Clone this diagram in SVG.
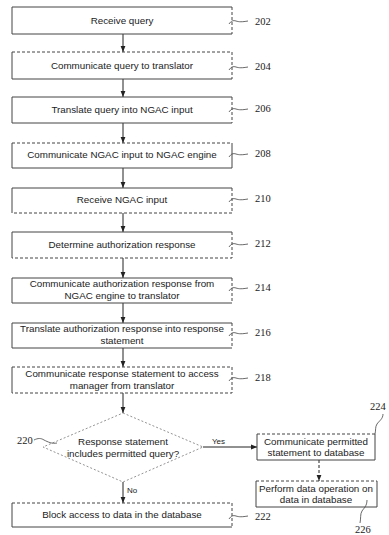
<svg xmlns="http://www.w3.org/2000/svg" width="389" height="535" viewBox="0 0 389 535">
  <defs>
    <marker id="arrow" viewBox="0 0 10 10" refX="10" refY="5" markerWidth="6" markerHeight="6" orient="auto">
      <path d="M0,1 L10,5 L0,9 z" fill="#222"/>
    </marker>
    <style>
      .solid { stroke: #444; stroke-width: 1; fill: none; }
      .dash { stroke: #444; stroke-width: 1; fill: none; stroke-dasharray: 3 2; }
      .dot { stroke: #777; stroke-width: 0.8; fill: none; stroke-dasharray: 2 2; }
      .conn { stroke: #222; stroke-width: 1; fill: none; marker-end: url(#arrow); }
      .lead { stroke: #444; stroke-width: 0.8; fill: none; }
      .t { font-family: "Liberation Sans", Arial, sans-serif; font-size: 9.8px; fill: #222; text-anchor: middle; }
      .s { font-family: "Liberation Sans", Arial, sans-serif; font-size: 8px; fill: #222; }
      .ref { font-family: "Liberation Serif", "Times New Roman", serif; font-size: 10.5px; fill: #222; }
    </style>
  </defs>
  <rect width="389" height="535" fill="#fff"/>

  <!-- connectors -->
  <g id="connectors">
    <line class="conn" x1="123" y1="34" x2="123" y2="52"/>
    <line class="conn" x1="123" y1="79" x2="123" y2="97"/>
    <line class="conn" x1="123" y1="123" x2="123" y2="143"/>
    <line class="conn" x1="123" y1="168" x2="123" y2="188"/>
    <line class="conn" x1="123" y1="213" x2="123" y2="232"/>
    <line class="conn" x1="123" y1="258" x2="123" y2="278"/>
    <line class="conn" x1="123" y1="303" x2="123" y2="323"/>
    <line class="conn" x1="123" y1="348" x2="123" y2="367"/>
    <line class="conn" x1="123" y1="393" x2="123" y2="413"/>
    <line class="conn" x1="123" y1="482" x2="123" y2="503"/>
    <line class="conn" x1="203" y1="447" x2="257" y2="447"/>
    <line class="conn" x1="319" y1="460" x2="319" y2="481" stroke-dasharray="3 2"/>
    <text class="s" x="212" y="444">Yes</text>
    <text class="s" x="127" y="493">No</text>
  </g>

  <!-- 202 -->
  <g id="n202">
    <path class="solid" d="M232,7 H12 V34 H232"/>
    <path class="dash" d="M232,7 V34"/>
    <text class="t" x="122" y="24">Receive query</text>
    <path class="lead" d="M229,24 c2,-3 4,-4 7,-3 c3,1 6,1 12,0"/>
    <text class="ref" x="255" y="25">202</text>
  </g>

  <!-- 204 -->
  <g id="n204">
    <path class="dash" d="M12,52 H232 V79"/>
    <path class="solid" d="M12,52 V79 H232"/>
    <text class="t" x="122" y="69">Communicate query to translator</text>
    <path class="lead" d="M229,70 c2,-3 4,-4 7,-3 c3,1 6,1 12,0"/>
    <text class="ref" x="255" y="70">204</text>
  </g>

  <!-- 206 -->
  <g id="n206">
    <path class="solid" d="M232,97 H12 V123 H232"/>
    <path class="dash" d="M232,97 V123"/>
    <text class="t" x="122" y="113">Translate query into NGAC input</text>
    <path class="lead" d="M229,112 c2,-3 4,-4 7,-3 c3,1 6,1 12,0"/>
    <text class="ref" x="255" y="112">206</text>
  </g>

  <!-- 208 -->
  <g id="n208">
    <path class="dash" d="M12,143 H232"/>
    <path class="solid" d="M232,143 V168 H12 V143"/>
    <text class="t" x="122" y="158">Communicate NGAC input to NGAC engine</text>
    <path class="lead" d="M229,157 c2,-3 4,-4 7,-3 c3,1 6,1 12,0"/>
    <text class="ref" x="255" y="157">208</text>
  </g>

  <!-- 210 -->
  <g id="n210">
    <path class="solid" d="M12,213 V188 H232"/>
    <path class="dash" d="M232,188 V213 H12"/>
    <text class="t" x="122" y="203">Receive NGAC input</text>
    <path class="lead" d="M229,202 c2,-3 4,-4 7,-3 c3,1 6,1 12,0"/>
    <text class="ref" x="255" y="202">210</text>
  </g>

  <!-- 212 -->
  <g id="n212">
    <path class="solid" d="M12,258 V232 H232"/>
    <path class="dash" d="M232,232 V258 H12"/>
    <text class="t" x="122" y="248">Determine authorization response</text>
    <path class="lead" d="M229,247 c2,-3 4,-4 7,-3 c3,1 6,1 12,0"/>
    <text class="ref" x="255" y="247">212</text>
  </g>

  <!-- 214 -->
  <g id="n214">
    <path class="solid" d="M232,278 H12 V303 H232"/>
    <path class="dash" d="M232,278 V303"/>
    <text class="t" x="122" y="287">Communicate authorization response from</text>
    <text class="t" x="122" y="299">NGAC engine to translator</text>
    <path class="lead" d="M229,291 c2,-3 4,-4 7,-3 c3,1 6,1 12,0"/>
    <text class="ref" x="255" y="291">214</text>
  </g>

  <!-- 216 -->
  <g id="n216">
    <path class="solid" d="M232,323 H12 V348 H232"/>
    <path class="dash" d="M232,323 V348"/>
    <text class="t" x="122" y="332">Translate authorization response into response</text>
    <text class="t" x="122" y="344">statement</text>
    <path class="lead" d="M229,336 c2,-3 4,-4 7,-3 c3,1 6,1 12,0"/>
    <text class="ref" x="255" y="336">216</text>
  </g>

  <!-- 218 -->
  <g id="n218">
    <path class="solid" d="M12,367 V393"/>
    <path class="dash" d="M12,367 H232 V393 H12"/>
    <text class="t" x="122" y="377">Communicate response statement to access</text>
    <text class="t" x="122" y="389">manager from translator</text>
    <path class="lead" d="M229,381 c2,-3 4,-4 7,-3 c3,1 6,1 12,0"/>
    <text class="ref" x="255" y="381">218</text>
  </g>

  <!-- 220 decision -->
  <g id="n220">
    <path class="dot" d="M123,413 L203,447 L123,482 L43,447 Z"/>
    <text class="t" x="123" y="445">Response statement</text>
    <text class="t" x="123" y="457">includes permitted query?</text>
    <path class="lead" d="M34,440 c4,-2 7,-2 10,0 c4,2 8,4 13,3"/>
    <text class="ref" x="17" y="444">220</text>
  </g>

  <!-- 222 -->
  <g id="n222">
    <path class="dash" d="M12,503 H232 V527"/>
    <path class="solid" d="M12,503 V527 H232"/>
    <text class="t" x="122" y="518">Block access to data in the database</text>
    <path class="lead" d="M229,519 c2,-3 4,-4 7,-3 c3,1 6,1 12,0"/>
    <text class="ref" x="255" y="520">222</text>
  </g>

  <!-- 224 -->
  <g id="n224">
    <path class="dash" d="M257,434 H375"/>
    <path class="solid" d="M375,434 V460 H257 V434"/>
    <text class="t" x="316" y="445">Communicate permitted</text>
    <text class="t" x="316" y="456">statement to database</text>
    <path class="lead" d="M383,414 c0,5 -4,7 -6,10 c-2,3 -1,6 -2,10"/>
    <text class="ref" x="370" y="410">224</text>
  </g>

  <!-- 226 -->
  <g id="n226">
    <path class="dash" d="M256,481 H377"/>
    <path class="solid" d="M377,481 V507 H256 V481"/>
    <text class="t" x="316" y="492">Perform data operation on</text>
    <text class="t" x="316" y="503">data in database</text>
    <path class="lead" d="M367,500 c0,6 -3,8 -5,11 c-2,3 -1,8 -2,12"/>
    <text class="ref" x="355" y="533">226</text>
  </g>
</svg>
